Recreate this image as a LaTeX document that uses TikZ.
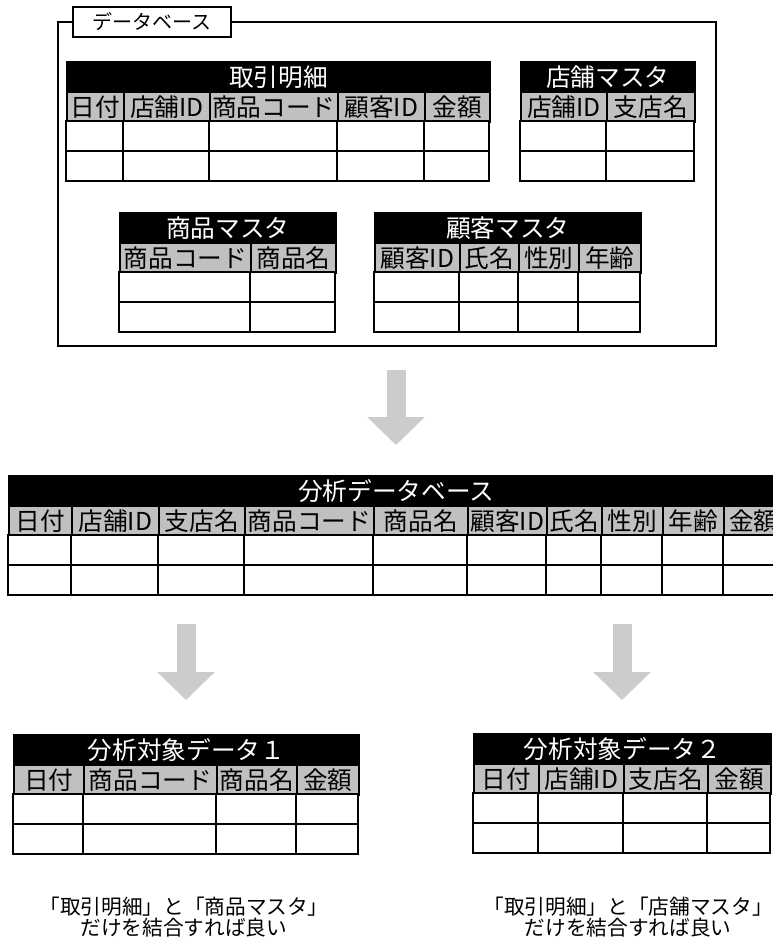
\documentclass[tikz,border=0pt]{standalone}
\usepackage{fontspec}
\setmainfont{Noto Sans CJK JP}
\usetikzlibrary{arrows.meta,positioning}
\definecolor{hdrgray}{HTML}{C0C0C0}
\definecolor{arrgray}{HTML}{CCCCCC}
\tikzset{
  ttl/.style={draw=black, fill=black, text=white, line width=1.3pt, font=\fontsize{18.5}{18.5}\selectfont, inner sep=0pt, minimum height=22.5pt, anchor=north west},
  hdr/.style={draw=black, fill=hdrgray, line width=1.3pt, font=\fontsize{18.5}{18.5}\selectfont, inner sep=0pt, minimum height=22.5pt, anchor=north west},
  cell/.style={draw=black, fill=white, line width=1.3pt},
  frame/.style={draw=black, line width=1.3pt, inner sep=0pt, anchor=north west},
  tag/.style={draw=black, fill=white, line width=1.3pt, font=\fontsize{15}{15}\selectfont, inner sep=0pt, anchor=north west},
  note/.style={font=\fontsize{15.5}{16}\selectfont, align=center},
  bigarr/.style={draw=arrgray, line width=14.25pt, -{Triangle[length=21pt, width=42pt]}}}
\newcommand{\dbtable}[6]{%
  \node[ttl, minimum width={(#3-#2)*0.75pt}] (#1) at (#2,#4) {#5};
  \foreach \a/\b/\lab [count=\i] in {#6} {
    \node[hdr, minimum width={(\b-\a)*0.75pt}] (#1-\i) at (\a,#4+30) {\lab};
    \draw[cell] (\a,#4+60) rectangle (\b,#4+90);
    \draw[cell] (\a,#4+90) rectangle (\b,#4+120);
  }}
\begin{document}
\begin{tikzpicture}[x=0.75pt, y=-0.75pt]
  \useasboundingbox (0,0) rectangle (773,939);
  \node[frame, minimum width=493.5pt, minimum height=243pt] (db) at (57,21) {};
  \node[tag, minimum width=118.5pt, minimum height=22.5pt] (dbtag) at (72,6) {データベース};
  \dbtable{trans}{66}{489}{61}{取引明細}{66/123/日付, 123/209/店舗ID, 209/337/商品コード, 337/424/顧客ID, 424/489/金額}
  \dbtable{shop}{520}{694}{61}{店舗マスタ}{520/606/店舗ID, 606/694/支店名}
  \dbtable{item}{119}{335}{212}{商品マスタ}{119/250/商品コード, 250/335/商品名}
  \dbtable{cust}{374}{640}{212}{顧客マスタ}{374/459/顧客ID, 459/518/氏名, 518/578/性別, 578/640/年齢}
  \dbtable{anal}{8}{783}{475}{分析データベース}{8/71/日付, 71/158/店舗ID, 158/244/支店名, 244/373/商品コード, 373/467/商品名, 467/546/顧客ID, 546/601/氏名, 601/662/性別, 662/723/年齢, 723/783/金額}
  \dbtable{tgtA}{13}{358}{734}{分析対象データ１}{13/83/日付, 83/216/商品コード, 216/296/商品名, 296/358/金額}
  \dbtable{tgtB}{473}{770}{733}{分析対象データ２}{473/538/日付, 538/623/店舗ID, 623/707/支店名, 707/770/金額}
  \coordinate (a1top) at (396,370);
  \coordinate (a1tip) at (396,445);
  \coordinate (a2top) at (186,624);
  \coordinate (a2tip) at (186,700);
  \coordinate (a3top) at (622,624);
  \coordinate (a3tip) at (622,700);
  \draw[bigarr] (a1top) -- (a1tip);
  \draw[bigarr] (a2top) -- (a2tip);
  \draw[bigarr] (a3top) -- (a3tip);
  \node[note] (noteA) at (184,917) {「取引明細」と「商品マスタ」\\だけを結合すれば良い};
  \node[note] (noteB) at (628,917) {「取引明細」と「店舗マスタ」\\だけを結合すれば良い};
\end{tikzpicture}
\end{document}
